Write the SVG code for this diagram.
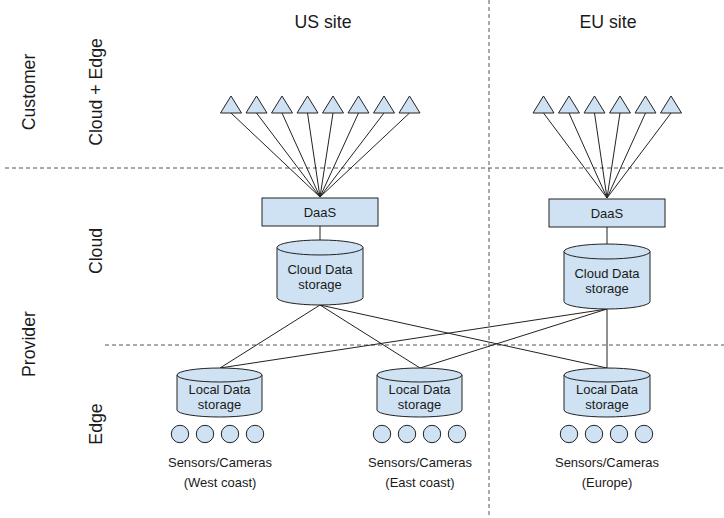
<svg xmlns="http://www.w3.org/2000/svg" width="724" height="518" viewBox="0 0 724 518">
<style>
text{font-family:"Liberation Sans",Arial,sans-serif;fill:#1a1a1a}
.big{font-size:17.7px}
.lbl{font-size:13px;text-anchor:middle}
.sm{font-size:13px;text-anchor:middle}
.node{fill:#cfe2f3;stroke:#222;stroke-width:1}
.dash{stroke:#555;stroke-width:1;stroke-dasharray:4 3;fill:none}
.conn line{stroke:#222;stroke-width:1}
</style>
<defs>
<polygon id="tri" points="0,-8.5 10.5,8.5 -10.5,8.5" class="node"/>
<circle id="sen" r="8.7" class="node"/>
</defs>
<rect width="724" height="518" fill="#fff"/>
<g id="dividers">
<line class="dash" x1="489" y1="0" x2="489" y2="518"/>
<line class="dash" x1="5" y1="168" x2="724" y2="168"/>
<line class="dash" x1="105" y1="345" x2="724" y2="345"/>
</g>
<g id="headers">
<text class="big" x="323" y="28" text-anchor="middle">US site</text>
<text class="big" x="608" y="28" text-anchor="middle">EU site</text>
<text class="big" transform="translate(35,92) rotate(-90)" text-anchor="middle">Customer</text>
<text class="big" transform="translate(102,92) rotate(-90)" text-anchor="middle">Cloud + Edge</text>
<text class="big" transform="translate(102,251) rotate(-90)" text-anchor="middle">Cloud</text>
<text class="big" transform="translate(35,344) rotate(-90)" text-anchor="middle">Provider</text>
<text class="big" transform="translate(102,424) rotate(-90)" text-anchor="middle">Edge</text>
</g>
<g id="connectors" class="conn">
<line x1="231" y1="113" x2="320" y2="197"/>
<line x1="256.5" y1="113" x2="320" y2="197"/>
<line x1="282" y1="113" x2="320" y2="197"/>
<line x1="307.5" y1="113" x2="320" y2="197"/>
<line x1="333" y1="113" x2="320" y2="197"/>
<line x1="358.5" y1="113" x2="320" y2="197"/>
<line x1="384" y1="113" x2="320" y2="197"/>
<line x1="409.5" y1="113" x2="320" y2="197"/>
<line x1="543.5" y1="113" x2="607" y2="198"/>
<line x1="569" y1="113" x2="607" y2="198"/>
<line x1="594.5" y1="113" x2="607" y2="198"/>
<line x1="620" y1="113" x2="607" y2="198"/>
<line x1="645.5" y1="113" x2="607" y2="198"/>
<line x1="671" y1="113" x2="607" y2="198"/>
<line x1="320" y1="226" x2="320" y2="240"/>
<line x1="607" y1="227" x2="607" y2="244"/>
<line x1="320" y1="305" x2="220" y2="368"/>
<line x1="320" y1="305" x2="420" y2="368"/>
<line x1="320" y1="305" x2="607" y2="368"/>
<line x1="607" y1="309" x2="220" y2="368"/>
<line x1="607" y1="309" x2="420" y2="368"/>
<line x1="607" y1="309" x2="607" y2="368"/>
</g>
<g id="us-users">
<use href="#tri" x="231" y="104.5"/>
<use href="#tri" x="256.5" y="104.5"/>
<use href="#tri" x="282" y="104.5"/>
<use href="#tri" x="307.5" y="104.5"/>
<use href="#tri" x="333" y="104.5"/>
<use href="#tri" x="358.5" y="104.5"/>
<use href="#tri" x="384" y="104.5"/>
<use href="#tri" x="409.5" y="104.5"/>
</g>
<g id="eu-users">
<use href="#tri" x="543.5" y="104.5"/>
<use href="#tri" x="569" y="104.5"/>
<use href="#tri" x="594.5" y="104.5"/>
<use href="#tri" x="620" y="104.5"/>
<use href="#tri" x="645.5" y="104.5"/>
<use href="#tri" x="671" y="104.5"/>
</g>
<g id="us-daas">
<rect class="node" x="262" y="198" width="116" height="28"/>
<text class="lbl" x="320" y="216.5">DaaS</text>
</g>
<g id="eu-daas">
<rect class="node" x="549" y="199" width="116" height="28"/>
<text class="lbl" x="607" y="217.5">DaaS</text>
</g>
<g id="us-cloud-storage">
<path class="node" d="M277,247.5 A43,7.5 0 0 1 363,247.5 L363,297.5 A43,7.5 0 0 1 277,297.5 Z"/>
<path class="node" d="M277,247.5 A43,7.5 0 0 0 363,247.5" fill="none"/>
<text class="lbl" x="320" y="273.5">Cloud Data</text>
<text class="lbl" x="320" y="288.5">storage</text>
</g>
<g id="eu-cloud-storage">
<path class="node" d="M564,251.5 A43,7.5 0 0 1 650,251.5 L650,301.5 A43,7.5 0 0 1 564,301.5 Z"/>
<path class="node" d="M564,251.5 A43,7.5 0 0 0 650,251.5" fill="none"/>
<text class="lbl" x="607" y="277.5">Cloud Data</text>
<text class="lbl" x="607" y="293">storage</text>
</g>
<g id="west-local-storage">
<path class="node" d="M177,375 A42.5,7 0 0 1 262,375 L262,410 A42.5,7 0 0 1 177,410 Z"/>
<path class="node" d="M177,375 A42.5,7 0 0 0 262,375" fill="none"/>
<text class="lbl" x="219.5" y="393.5">Local Data</text>
<text class="lbl" x="219.5" y="408.5">storage</text>
</g>
<g id="east-local-storage">
<path class="node" d="M377,375 A42.5,7 0 0 1 462,375 L462,410 A42.5,7 0 0 1 377,410 Z"/>
<path class="node" d="M377,375 A42.5,7 0 0 0 462,375" fill="none"/>
<text class="lbl" x="419.5" y="393.5">Local Data</text>
<text class="lbl" x="419.5" y="408.5">storage</text>
</g>
<g id="eu-local-storage">
<path class="node" d="M564,375 A43,7 0 0 1 650,375 L650,410 A43,7 0 0 1 564,410 Z"/>
<path class="node" d="M564,375 A43,7 0 0 0 650,375" fill="none"/>
<text class="lbl" x="607" y="393.5">Local Data</text>
<text class="lbl" x="607" y="408.5">storage</text>
</g>
<g id="west-sensors">
<use href="#sen" x="180" y="434"/>
<use href="#sen" x="205" y="434"/>
<use href="#sen" x="230" y="434"/>
<use href="#sen" x="255" y="434"/>
<text class="sm" x="220" y="466.5">Sensors/Cameras</text>
<text class="sm" x="220" y="486.5">(West coast)</text>
</g>
<g id="east-sensors">
<use href="#sen" x="382" y="434"/>
<use href="#sen" x="407" y="434"/>
<use href="#sen" x="432" y="434"/>
<use href="#sen" x="457" y="434"/>
<text class="sm" x="420" y="466.5">Sensors/Cameras</text>
<text class="sm" x="420" y="486.5">(East coast)</text>
</g>
<g id="eu-sensors">
<use href="#sen" x="569" y="434"/>
<use href="#sen" x="594" y="434"/>
<use href="#sen" x="619" y="434"/>
<use href="#sen" x="644" y="434"/>
<text class="sm" x="607" y="466.5">Sensors/Cameras</text>
<text class="sm" x="607" y="486.5">(Europe)</text>
</g>
</svg>
